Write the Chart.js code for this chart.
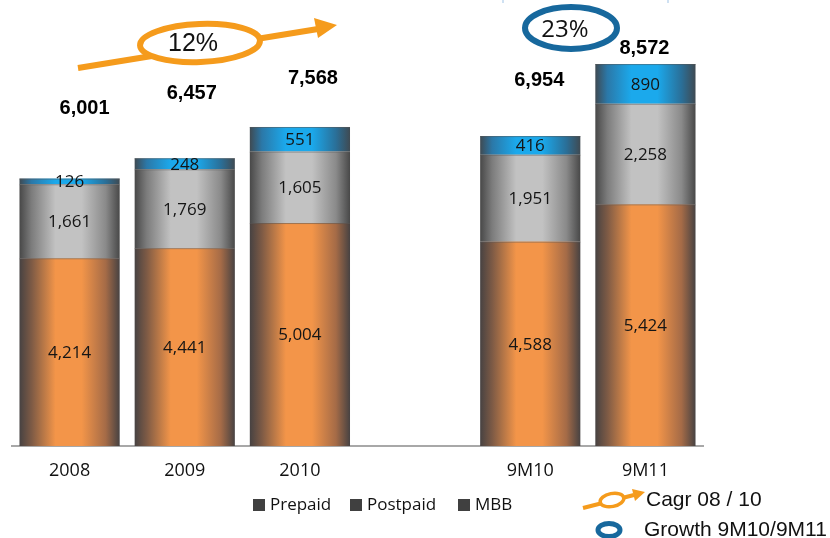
<!DOCTYPE html>
<html>
<head>
<meta charset="utf-8">
<script src="https://cdn.jsdelivr.net/npm/chart.js@4/dist/chart.umd.min.js"></script>
<style>
  html, body { margin: 0; padding: 0; background: #fff; }
  #wrap { width: 830px; height: 538px; }
</style>
</head>
<body>
<div id="wrap"><canvas id="subs"></canvas></div>
<script>
// data
const periods  = ['2008', '2009', '2010', '', '9M10', '9M11'];
const prepaid  = [4214, 4441, 5004, null, 4588, 5424];
const postpaid = [1661, 1769, 1605, null, 1951, 2258];
const mbb      = [126, 248, 551, null, 416, 890];
const totals   = [6001, 6457, 7568, null, 6954, 8572];
const cagrLabel = '12%';
const growthLabel = '23%';

// where the bold totals sit, relative to the top of each bar
const totalOffsets = [[15, -70], [7, -65], [13, -48], null, [9, -56], [-1, -16]];

const BAR_PCT = 0.87;
const fmt = v => v.toLocaleString('en-US');

// cylinder look: dark edges, bright middle
function cylinder(stops) {
  return function (ctx) {
    const chart = ctx.chart;
    const area = chart.chartArea;
    if (!area) return stops[2];
    const xs = chart.scales.x;
    const cx = xs.getPixelForValue(ctx.dataIndex);
    const half = (area.width / periods.length) * BAR_PCT / 2;
    const g = chart.ctx.createLinearGradient(cx - half, 0, cx + half, 0);
    g.addColorStop(0, stops[0]);
    g.addColorStop(0.12, stops[1]);
    g.addColorStop(0.36, stops[2]);
    g.addColorStop(0.62, stops[2]);
    g.addColorStop(0.86, stops[3]);
    g.addColorStop(1, stops[4]);
    return g;
  };
}

const valueLabels = {
  id: 'valueLabels',
  afterDatasetsDraw(chart) {
    const c = chart.ctx;
    c.save();
    // thin seams between segments and a light top edge
    c.strokeStyle = 'rgba(90,90,90,0.55)';
    c.lineWidth = 1;
    chart.data.datasets.forEach((ds, i) => {
      chart.getDatasetMeta(i).data.forEach((bar, j) => {
        if (ds.data[j] == null) return;
        const h = bar.width / 2;
        c.beginPath(); c.moveTo(bar.x - h, bar.y + 0.5); c.lineTo(bar.x + h, bar.y + 0.5); c.stroke();
      });
    });
    c.font = '17px "Open Sans"';
    c.fillStyle = '#151515';
    c.textAlign = 'center';
    c.textBaseline = 'middle';
    chart.data.datasets.forEach((ds, i) => {
      chart.getDatasetMeta(i).data.forEach((bar, j) => {
        if (ds.data[j] == null) return;
        c.fillText(fmt(ds.data[j]), bar.x, (bar.y + bar.base) / 2 + 1);
      });
    });
    // totals
    const top = chart.getDatasetMeta(2).data;
    c.font = 'bold 20px "Liberation Sans", Arial';
    c.fillStyle = '#000';
    totals.forEach((t, j) => {
      if (t == null) return;
      const [dx, dy] = totalOffsets[j];
      c.fillText(fmt(t), top[j].x + dx, top[j].y + dy);
    });
    c.restore();
  }
};

const extras = {
  id: 'extras',
  afterDraw(chart) {
    const c = chart.ctx;
    c.save();
    const orange = '#f59b1c', blue = '#17689d';

    // CAGR arrow with ellipse
    c.strokeStyle = orange; c.fillStyle = orange; c.lineWidth = 6;
    c.beginPath(); c.moveTo(78, 68); c.lineTo(318, 29); c.stroke();
    c.beginPath(); c.moveTo(337, 25); c.lineTo(314, 18); c.lineTo(318, 38); c.closePath(); c.fill();
    c.fillStyle = '#fff';
    c.beginPath(); c.ellipse(200, 43, 60, 19, -0.04, 0, Math.PI * 2); c.fill(); c.stroke();
    c.fillStyle = '#111';
    c.font = '25px "Liberation Sans", Arial';
    c.textAlign = 'center'; c.textBaseline = 'middle';
    c.fillText(cagrLabel, 193, 44);

    // growth ellipse
    c.strokeStyle = blue; c.lineWidth = 6;
    c.beginPath(); c.ellipse(571, 28, 46, 21, 0, 0, Math.PI * 2); c.stroke();
    c.fillStyle = '#111';
    c.font = '24px "Open Sans"';
    c.fillText(growthLabel, 565, 30);

    // faint marks at the very top
    c.strokeStyle = '#9fc3e6'; c.lineWidth = 1;
    c.beginPath(); c.moveTo(503, 0); c.lineTo(503, 3); c.moveTo(668, 0); c.lineTo(668, 3); c.stroke();

    // series legend
    const items = [['Prepaid', 253], ['Postpaid', 350], ['MBB', 458]];
    c.font = '17px "Open Sans"';
    c.textAlign = 'left';
    items.forEach(([name, x]) => {
      c.fillStyle = '#404040';
      c.fillRect(x, 499, 12, 12);
      c.fillStyle = '#111';
      c.fillText(name, x + 17, 505);
    });

    // annotation legend
    c.strokeStyle = orange; c.fillStyle = orange; c.lineWidth = 4;
    c.beginPath(); c.moveTo(583, 508); c.lineTo(634, 495); c.stroke();
    c.beginPath(); c.moveTo(645, 492); c.lineTo(632, 489); c.lineTo(635, 501); c.closePath(); c.fill();
    c.fillStyle = '#fff'; c.lineWidth = 3.5;
    c.beginPath(); c.ellipse(612, 500, 12, 6.5, -0.2, 0, Math.PI * 2); c.fill(); c.stroke();
    c.strokeStyle = blue; c.lineWidth = 5;
    c.beginPath(); c.ellipse(609, 530, 11, 6.5, 0, 0, Math.PI * 2); c.stroke();
    c.fillStyle = '#111';
    c.font = '21px "Liberation Sans", Arial';
    c.fillText('Cagr 08 / 10', 646, 500);
    c.fillText('Growth 9M10/9M11', 644, 530);
    c.restore();
  }
};

new Chart(document.getElementById('subs'), {
  type: 'bar',
  data: {
    labels: periods,
    datasets: [
      { label: 'Prepaid', data: prepaid,
        backgroundColor: cylinder(['#474242', '#7d5a45', '#f39549', '#a56b47', '#474242']) },
      { label: 'Postpaid', data: postpaid,
        backgroundColor: cylinder(['#484848', '#7c7c7c', '#c2c2c2', '#8a8a8a', '#484848']) },
      { label: 'MBB', data: mbb,
        backgroundColor: cylinder(['#3f4a52', '#2b78a8', '#1ba9ec', '#2a6f98', '#3f4a52']) }
    ]
  },
  options: {
    responsive: true,
    maintainAspectRatio: false,
    animation: false,
    layout: { padding: { top: 45, left: 12, right: 127, bottom: 0 } },
    datasets: { bar: { categoryPercentage: 1, barPercentage: BAR_PCT, borderWidth: 0 } },
    plugins: { legend: { display: false }, tooltip: { enabled: false } },
    scales: {
      x: {
        stacked: true,
        grid: { display: false, drawTicks: false },
        border: { display: true, color: '#a8a8a8', width: 2 },
        ticks: { color: '#111', font: { family: 'Open Sans', size: 18 }, padding: 14 },
        afterFit(scale) { scale.height = 92; }
      },
      y: { stacked: true, display: false, min: 0, max: 9000 }
    }
  },
  plugins: [valueLabels, extras]
});
</script>
</body>
</html>
